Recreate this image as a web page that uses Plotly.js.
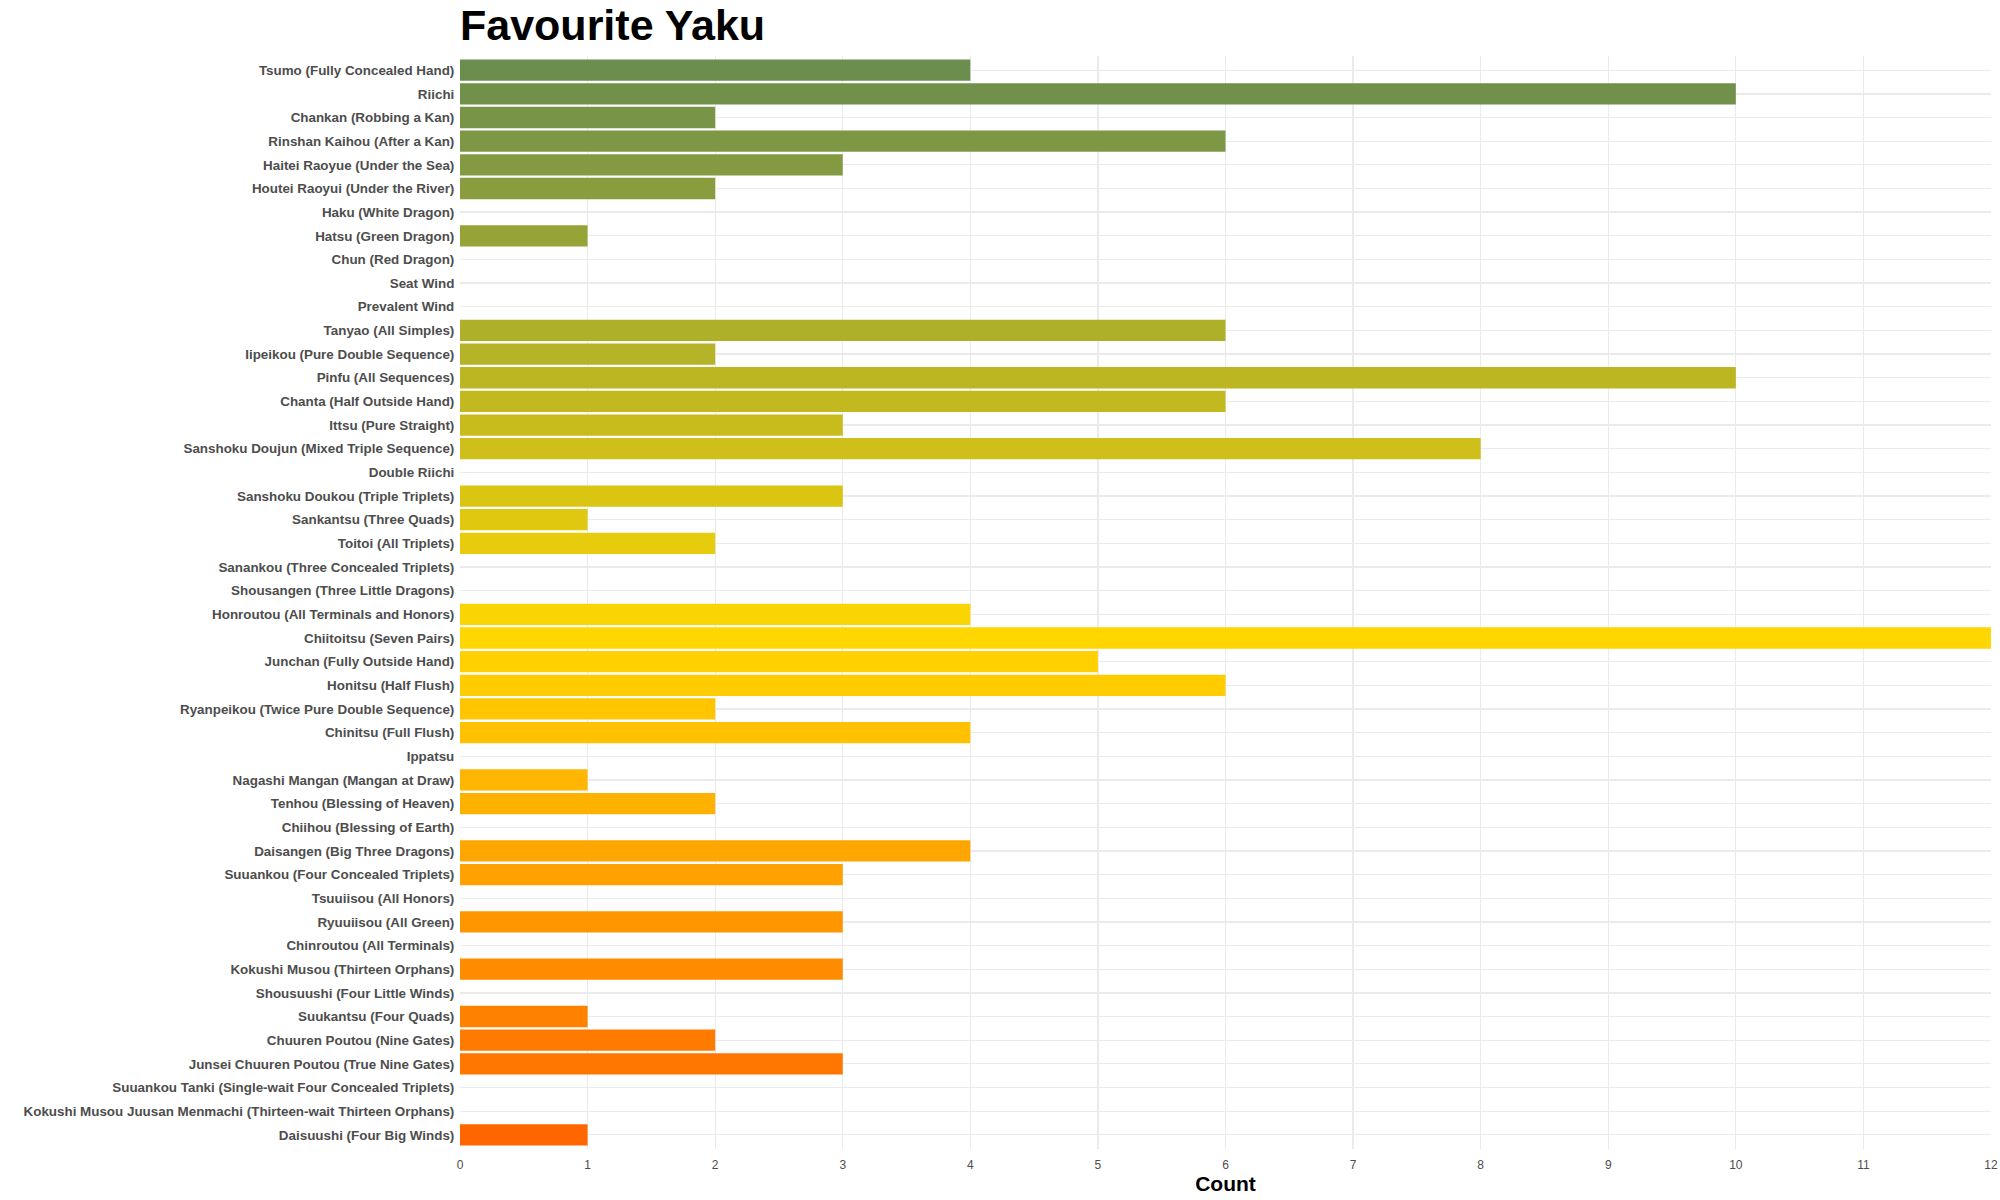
<!DOCTYPE html>
<html>
<head>
<meta charset="utf-8">
<script src="https://cdn.plot.ly/plotly-3.0.1.min.js"></script>
<style>
  body { margin: 0; background: #fff; }
  #chart { width: 2000px; height: 1200px; }
</style>
</head>
<body>
<div id="chart"></div>
<script>
var yaku = [
  'Tsumo (Fully Concealed Hand)', 'Riichi', 'Chankan (Robbing a Kan)', 'Rinshan Kaihou (After a Kan)',
  'Haitei Raoyue (Under the Sea)', 'Houtei Raoyui (Under the River)', 'Haku (White Dragon)',
  'Hatsu (Green Dragon)', 'Chun (Red Dragon)', 'Seat Wind', 'Prevalent Wind', 'Tanyao (All Simples)',
  'Iipeikou (Pure Double Sequence)', 'Pinfu (All Sequences)', 'Chanta (Half Outside Hand)',
  'Ittsu (Pure Straight)', 'Sanshoku Doujun (Mixed Triple Sequence)', 'Double Riichi',
  'Sanshoku Doukou (Triple Triplets)', 'Sankantsu (Three Quads)', 'Toitoi (All Triplets)',
  'Sanankou (Three Concealed Triplets)', 'Shousangen (Three Little Dragons)',
  'Honroutou (All Terminals and Honors)', 'Chiitoitsu (Seven Pairs)', 'Junchan (Fully Outside Hand)',
  'Honitsu (Half Flush)', 'Ryanpeikou (Twice Pure Double Sequence)', 'Chinitsu (Full Flush)', 'Ippatsu',
  'Nagashi Mangan (Mangan at Draw)', 'Tenhou (Blessing of Heaven)', 'Chiihou (Blessing of Earth)',
  'Daisangen (Big Three Dragons)', 'Suuankou (Four Concealed Triplets)', 'Tsuuiisou (All Honors)',
  'Ryuuiisou (All Green)', 'Chinroutou (All Terminals)', 'Kokushi Musou (Thirteen Orphans)',
  'Shousuushi (Four Little Winds)', 'Suukantsu (Four Quads)', 'Chuuren Poutou (Nine Gates)',
  'Junsei Chuuren Poutou (True Nine Gates)', 'Suuankou Tanki (Single-wait Four Concealed Triplets)',
  'Kokushi Musou Juusan Menmachi (Thirteen-wait Thirteen Orphans)', 'Daisuushi (Four Big Winds)'
];

var counts = [
  4, 10, 2, 6,
  3, 2, 0,
  1, 0, 0, 0, 6,
  2, 10, 6,
  3, 8, 0,
  3, 1, 2,
  0, 0,
  4, 12, 5,
  6, 2, 4, 0,
  1, 2, 0,
  4, 3, 0,
  3, 0, 3,
  0, 1, 2,
  3, 0,
  0, 1
];

var xTicks = [0, 1, 2, 3, 4, 5, 6, 7, 8, 9, 10, 11, 12];

// fill follows the position of each yaku in the list (green -> gold -> orange)
var fillStops = [[0, '#6b8e4e'], [0.53, '#ffd700'], [1, '#ff6600']];

var order = yaku.map(function (d, i) { return i; });

var font = '"Liberation Sans", Arial, sans-serif';

var data = [{
  type: 'bar',
  orientation: 'h',
  y: yaku,
  x: counts,
  width: 0.9,
  marker: {
    color: order,
    cmin: 0,
    cmax: yaku.length - 1,
    colorscale: fillStops,
    showscale: false,
    line: { width: 0 }
  },
  hoverinfo: 'x+y'
}];

var layout = {
  width: 2000,
  height: 1200,
  showlegend: false,
  paper_bgcolor: '#ffffff',
  plot_bgcolor: '#ffffff',
  margin: { l: 460, r: 9, t: 56, b: 51, autoexpand: false },
  title: {
    text: '<b>Favourite Yaku</b>',
    font: { family: font, size: 43, color: '#000000' },
    x: 0,
    xref: 'paper',
    xanchor: 'left',
    y: 0.979,
    yref: 'container',
    yanchor: 'middle'
  },
  xaxis: {
    range: [0, 12],
    tickvals: xTicks,
    ticktext: xTicks.map(String),
    showgrid: true,
    gridcolor: '#ebebeb',
    gridwidth: 1.3,
    zeroline: false,
    showline: false,
    ticks: 'outside',
    ticklen: 5,
    tickcolor: 'rgba(0,0,0,0)',
    tickfont: { family: font, size: 12, color: '#4d4d4d' },
    title: {
      text: '<b>Count</b>',
      font: { family: font, size: 21, color: '#000000' },
      standoff: 0
    }
  },
  yaxis: {
    type: 'category',
    categoryorder: 'array',
    categoryarray: yaku,
    range: [yaku.length - 0.4, -0.6],
    showgrid: true,
    gridcolor: '#ebebeb',
    gridwidth: 1.3,
    zeroline: false,
    showline: false,
    ticks: 'outside',
    ticklen: 2,
    tickcolor: 'rgba(0,0,0,0)',
    tickfont: { family: font, size: 13.4, color: '#4d4d4d', weight: 'bold' }
  }
};

Plotly.newPlot('chart', data, layout, { displayModeBar: false, staticPlot: true });
</script>
</body>
</html>
